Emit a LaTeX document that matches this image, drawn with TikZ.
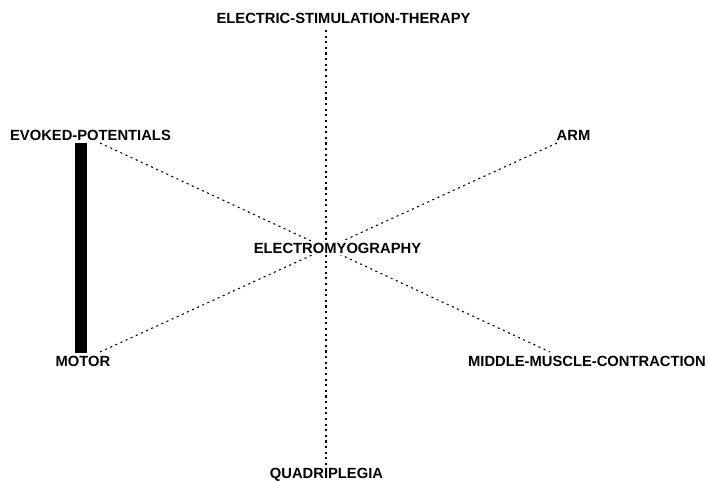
\documentclass[tikz,border=0pt]{standalone}
\usepackage{fontspec}
\newfontfamily\termfont{Liberation Sans}
\begin{document}
\begin{tikzpicture}[x=0.02cm,y=-0.02cm]
	\tikzstyle{Term} = [inner sep=0pt, font=\termfont\bfseries\fontsize{8.4}{10}\selectfont]
	\tikzstyle{Link} = [line width=0.6pt, dash pattern=on 1.2pt off 2pt]
	\tikzstyle{Strong} = [line width=12*0.567pt]
	\useasboundingbox (0,0) rectangle (708,482);
	\node (est) at (343.5,18.5) [Term] {ELECTRIC-STIMULATION-THERAPY};
	\node (evo) at (90.5,135) [Term] {EVOKED-POTENTIALS};
	\node (arm) at (573.5,135) [Term] {ARM};
	\node (mot) at (83,361.5) [Term] {MOTOR};
	\node (mmc) at (587,361.5) [Term] {MIDDLE-MUSCLE-CONTRACTION};
	\node (qua) at (326.5,475) [Term] {QUADRIPLEGIA};
	% line ends
	\coordinate (est-end) at (326,30);
	\coordinate (qua-end) at (326,468);
	\coordinate (evo-end) at (100,143);
	\coordinate (mot-end) at (100,352);
	\coordinate (arm-end) at (557,143);
	\coordinate (mmc-end) at (550,352);
	\coordinate (evo-bar) at (81,143);
	\coordinate (mot-bar) at (81,353);
	\draw [Link] (est-end) to (qua-end);
	\draw [Link] (evo-end) to (mmc-end);
	\draw [Link] (mot-end) to (arm-end);
	\draw [Strong] (evo-bar) to (mot-bar);
	\node (emg) at (337.5,248) [Term, fill=white, inner sep=1pt] {ELECTROMYOGRAPHY};
\end{tikzpicture}
\end{document}
